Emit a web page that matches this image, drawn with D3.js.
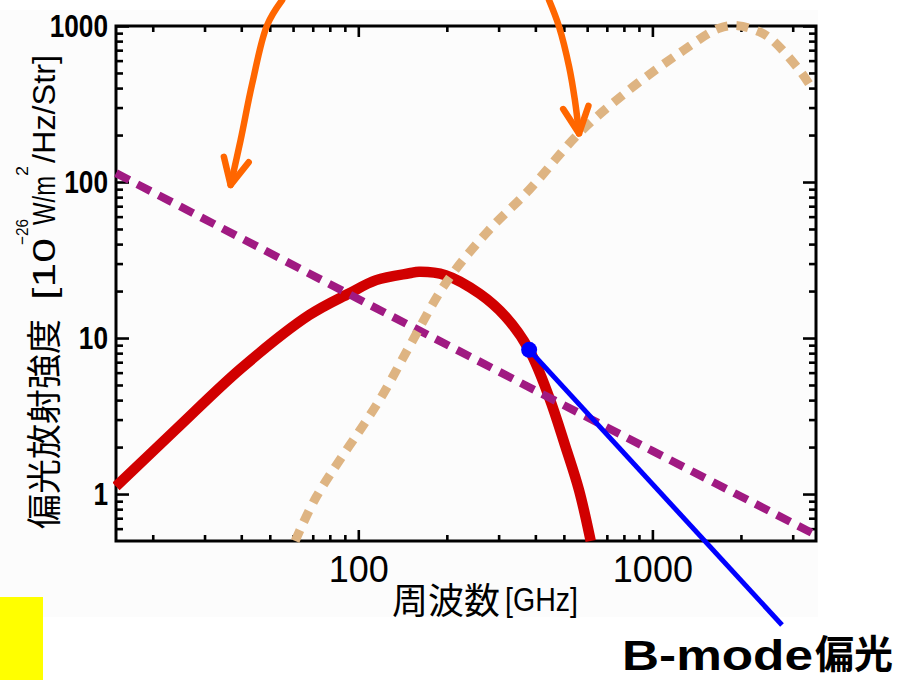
<!DOCTYPE html>
<html>
<head>
<meta charset="utf-8">
<script src="https://cdn.jsdelivr.net/npm/d3@7"></script>
<style>
  html, body { margin: 0; padding: 0; background: #ffffff; }
  svg { display: block; }
</style>
</head>
<body>
<svg id="chart" width="897" height="680"></svg>
<script>
// Polarised emission spectra, frequency in GHz, intensity in 1e-26 W/m^2/Hz/Str
const cmbFreq   = [15, 24, 40, 68, 93, 115, 149, 161, 198, 258, 317, 381, 445, 507, 563, 617];
const cmbValue  = [1.12, 2.6, 6.4, 14.0, 19.3, 23.5, 26.0, 26.6, 25.3, 19.3, 13.7, 8.4, 4.2, 2.0, 1.06, 0.5];

const syncFreq  = [15, 100, 1000, 3600];
const syncValue = [114, 17.8, 1.89, 0.546];

const dustFreq  = [61, 72, 118, 149, 198, 275, 381, 563, 833, 1233, 1686, 1950, 2307, 2558, 3161, 3500];
const dustValue = [0.5, 0.96, 4.0, 8.8, 22.4, 48, 89, 205, 389, 668, 967, 1005, 919, 813, 522, 395];

// Axis ticks
const xMajor = [100, 1000];
const xMinor = [20, 30, 40, 50, 60, 70, 80, 90, 200, 300, 400, 500, 600, 700, 800, 900, 2000, 3000];
const yMajor = [1, 10, 100, 1000];
const yMinor = [0.6, 0.7, 0.8, 0.9, 2, 3, 4, 5, 6, 7, 8, 9, 20, 30, 40, 50, 60, 70, 80, 90,
                200, 300, 400, 500, 600, 700, 800, 900];

// Highlighted point on the CMB curve (B-mode callout)
const bmodeFreq = 381;

// Orange pointer arrows, given in data units (they start above the frame)
const arrowA = [[55.1, 1468], [49.0, 1015], [43.6, 429], [39.8, 186], [36.8, 95.7]];
const arrowB = [[445, 1468], [481.6, 990], [521, 548], [545, 335], [563, 205]];

const svg = d3.select('#chart');
const plot = { left: 116, right: 816, top: 26, bottom: 541 };

const x = d3.scaleLog().domain([15, 3600]).range([plot.left, plot.right]);
const y = d3.scaleLog().domain([0.5, 1000]).range([plot.bottom, plot.top]);

// light panel behind the figure
svg.append('rect')
  .attr('x', 0).attr('y', 10).attr('width', 818).attr('height', 607)
  .attr('fill', '#fcfcfc');

// yellow marker block
svg.append('rect')
  .attr('x', 0).attr('y', 597).attr('width', 43).attr('height', 83)
  .attr('fill', '#ffff00');

// ---- axes ----
function tickAxis(axisFn, scale, values, size, transform) {
  const g = svg.append('g')
    .attr('transform', transform)
    .call(axisFn(scale).tickValues(values).tickSize(size).tickFormat(''));
  g.select('.domain').remove();
  g.selectAll('.tick line').attr('stroke', '#000').attr('stroke-width', 2.6);
  return g;
}

// minor ticks on all four sides
tickAxis(d3.axisBottom, x, xMinor, -6, `translate(0,${plot.bottom})`);
tickAxis(d3.axisTop, x, xMinor, -6, `translate(0,${plot.top})`);
tickAxis(d3.axisLeft, y, yMinor, -7, `translate(${plot.left},0)`);
tickAxis(d3.axisRight, y, yMinor, -7, `translate(${plot.right},0)`);
// major ticks on top / right
tickAxis(d3.axisTop, x, xMajor, -11, `translate(0,${plot.top})`);
tickAxis(d3.axisRight, y, yMajor, -13, `translate(${plot.right},0)`);

// labelled bottom axis
const xAxis = svg.append('g')
  .attr('transform', `translate(0,${plot.bottom})`)
  .call(d3.axisBottom(x).tickValues(xMajor).tickSize(-11).tickPadding(15).tickFormat(d3.format('d')));
xAxis.select('.domain').remove();
xAxis.selectAll('.tick line').attr('stroke', '#000').attr('stroke-width', 2.6);
xAxis.selectAll('.tick text')
  .attr('fill', '#000')
  .style('font-family', '"Liberation Sans", Arial, sans-serif')
  .style('font-size', '36px');

// labelled left axis
const yAxis = svg.append('g')
  .attr('transform', `translate(${plot.left},0)`)
  .call(d3.axisLeft(y).tickValues(yMajor).tickSize(-13).tickPadding(8).tickFormat(d3.format('d')));
yAxis.select('.domain').remove();
yAxis.selectAll('.tick line').attr('stroke', '#000').attr('stroke-width', 2.6);
yAxis.selectAll('.tick text')
  .attr('x', null)
  .attr('fill', '#000')
  .attr('transform', 'translate(-8,0) scale(0.82,1)')
  .style('font-family', '"Liberation Sans", Arial, sans-serif')
  .style('font-weight', 'bold')
  .style('font-size', '32px');

// frame
svg.append('rect')
  .attr('x', plot.left).attr('y', plot.top)
  .attr('width', plot.right - plot.left).attr('height', plot.bottom - plot.top)
  .attr('fill', 'none').attr('stroke', '#000').attr('stroke-width', 3);

// ---- axis titles ----
const cjk = '"Noto Sans CJK JP", "Noto Sans CJK SC", sans-serif';
const latin = '"Liberation Sans", Arial, sans-serif';

const xTitle = svg.append('g');
xTitle.append('text')
  .attr('x', 392).attr('y', 614)
  .style('font-family', cjk).style('font-size', '36px')
  .text('周波数');
xTitle.append('text')
  .attr('x', 505).attr('y', 611)
  .attr('textLength', 73).attr('lengthAdjust', 'spacingAndGlyphs')
  .style('font-family', latin).style('font-size', '33px')
  .text('[GHz]');

const yTitleCjk = svg.append('g').attr('transform', 'translate(57,529) rotate(-90)');
yTitleCjk.append('text')
  .attr('x', 0).attr('y', 0)
  .style('font-family', cjk).style('font-size', '35px')
  .text('偏光放射強度');

const yTitleUnit = svg.append('g').attr('transform', 'translate(55,300) rotate(-90)');
const unitParts = [
  { t: '[10',       x: 0,   y: 0,   size: 32, len: 62  },
  { t: '\u221226',  x: 55,  y: -27, size: 17, len: 26  },
  { t: 'W/m',       x: 75,  y: 0,   size: 32, len: 49  },
  { t: '2',         x: 124, y: -27, size: 17, len: 10  },
  { t: '/Hz/Str]',  x: 137, y: 0,   size: 32, len: 108 }
];
yTitleUnit.selectAll('text')
  .data(unitParts)
  .join('text')
  .attr('x', d => d.x).attr('y', d => d.y)
  .attr('textLength', d => d.len).attr('lengthAdjust', 'spacingAndGlyphs')
  .style('font-family', latin)
  .style('font-size', d => d.size + 'px')
  .text(d => d.t);

// ---- spectra ----
svg.append('clipPath').attr('id', 'plot-clip')
  .append('rect')
  .attr('x', plot.left - 3).attr('y', plot.top - 8)
  .attr('width', plot.right - plot.left + 6).attr('height', plot.bottom - plot.top + 10);

const curves = svg.append('g').attr('clip-path', 'url(#plot-clip)');

const smooth = d3.line()
  .x(d => x(d[0])).y(d => y(d[1]))
  .curve(d3.curveCatmullRom.alpha(0.5));
const straight = d3.line()
  .x(d => x(d[0])).y(d => y(d[1]));

const cmb  = cmbFreq.map((f, i) => [f, cmbValue[i]]);
const sync = syncFreq.map((f, i) => [f, syncValue[i]]);
const dust = dustFreq.map((f, i) => [f, dustValue[i]]);

curves.append('path')
  .attr('d', smooth(cmb))
  .attr('fill', 'none')
  .attr('stroke', '#d10000')
  .attr('stroke-width', 10.5);

curves.append('path')
  .attr('d', straight(sync))
  .attr('fill', 'none')
  .attr('stroke', '#a01a82')
  .attr('stroke-width', 8)
  .attr('stroke-dasharray', '15,9');

curves.append('path')
  .attr('d', smooth(dust))
  .attr('fill', 'none')
  .attr('stroke', '#deb482')
  .attr('stroke-width', 9)
  .attr('stroke-dasharray', '12,9');

// ---- orange pointer arrows ----
function drawArrow(points) {
  const px = points.map(p => [x(p[0]), y(p[1])]);
  const line = d3.line().curve(d3.curveCatmullRom.alpha(0.5));
  svg.append('path')
    .attr('d', line(px))
    .attr('fill', 'none')
    .attr('stroke', '#ff6600')
    .attr('stroke-width', 6.5)
    .attr('stroke-linecap', 'round');
  const tip = px[px.length - 1];
  const prev = px[px.length - 2];
  const back = Math.atan2(prev[1] - tip[1], prev[0] - tip[0]);
  const len = 29, spread = 26 * Math.PI / 180;
  const head = [
    [tip[0] + len * Math.cos(back - spread), tip[1] + len * Math.sin(back - spread)],
    tip,
    [tip[0] + len * Math.cos(back + spread), tip[1] + len * Math.sin(back + spread)]
  ];
  svg.append('path')
    .attr('d', d3.line()(head))
    .attr('fill', 'none')
    .attr('stroke', '#ff6600')
    .attr('stroke-width', 6.5)
    .attr('stroke-linecap', 'round')
    .attr('stroke-linejoin', 'round');
}
drawArrow(arrowA);
drawArrow(arrowB);

// ---- B-mode callout ----
const bIdx = cmbFreq.indexOf(bmodeFreq);
const dot = [x(cmbFreq[bIdx]), y(cmbValue[bIdx])];
const calloutEnd = [782, 625];

svg.append('line')
  .attr('x1', dot[0]).attr('y1', dot[1])
  .attr('x2', calloutEnd[0]).attr('y2', calloutEnd[1])
  .attr('stroke', '#0000ff')
  .attr('stroke-width', 5);
svg.append('circle')
  .attr('cx', dot[0]).attr('cy', dot[1]).attr('r', 8)
  .attr('fill', '#0000ff');

svg.append('text')
  .attr('x', 622).attr('y', 670)
  .attr('textLength', 191).attr('lengthAdjust', 'spacingAndGlyphs')
  .style('font-family', latin).style('font-weight', 'bold').style('font-size', '43px')
  .attr('fill', '#000')
  .text('B-mode');
svg.append('text')
  .attr('x', 815).attr('y', 668)
  .style('font-family', cjk).style('font-weight', 'bold').style('font-size', '39px')
  .attr('fill', '#000')
  .text('偏光');
</script>
</body>
</html>
